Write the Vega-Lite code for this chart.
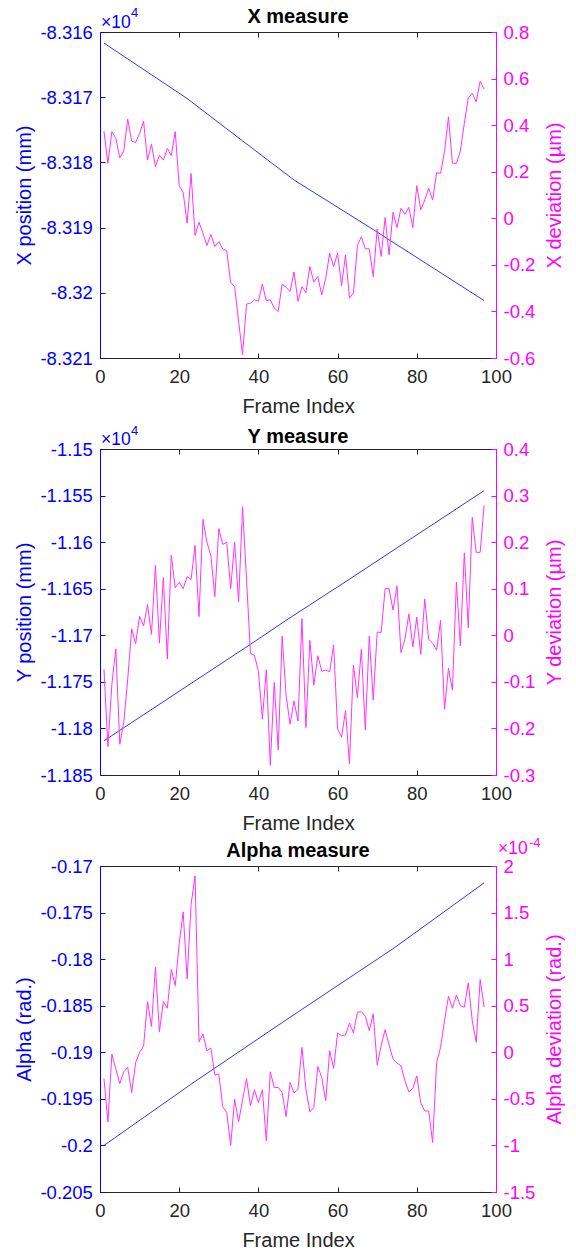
{
  "$schema": "https://vega.github.io/schema/vega-lite/v6.json",
  "padding": {"left": 14, "top": 6, "right": 0, "bottom": 0},
  "background": "white",
  "config": {
    "font": "Liberation Sans",
    "view": {"stroke": "#262626", "strokeWidth": 1},
    "axis": {"grid": false, "labelFlush": false, "labelOverlap": false, "tickSize": -5, "tickWidth": 1, "domainWidth": 1, "labelFont": "Liberation Sans", "titleFont": "Liberation Sans", "labelFontSize": 18.5, "titleFontSize": 20, "titleFontWeight": "normal"},
    "axisLeft": {"labelPadding": 12.6, "titlePadding": 5, "domainColor": "#0000ff", "tickColor": "#0000ff", "labelColor": "#0000ff", "titleColor": "#0000ff"},
    "axisRight": {"labelPadding": 12, "titlePadding": 10, "titleAngle": 270, "titleBaseline": "top", "domainColor": "#ff00ff", "tickColor": "#ff00ff", "labelColor": "#ff00ff", "titleColor": "#ff00ff"},
    "axisBottom": {"labelPadding": 14, "titlePadding": 11, "domainColor": "#262626", "tickColor": "#262626", "labelColor": "#262626", "titleColor": "#262626"},
    "axisTop": {"labels": false, "domainColor": "#262626", "tickColor": "#262626"},
    "title": {"font": "Liberation Sans", "fontSize": 20, "fontWeight": "bold", "color": "#000000"}
  },
  "datasets": {
    "x_pos": [
      {"frame": 1, "x_position": -8.31617}, {"frame": 22, "x_position": -8.31702}, {"frame": 36, "x_position": -8.31767},
      {"frame": 49, "x_position": -8.31827}, {"frame": 69, "x_position": -8.31903}, {"frame": 97, "x_position": -8.32012}
    ],
    "y_pos": [
      {"frame": 1, "y_position": -1.18133}, {"frame": 38, "y_position": -1.17097}, {"frame": 48, "y_position": -1.16811},
      {"frame": 60, "y_position": -1.16481}, {"frame": 97, "y_position": -1.15447}
    ],
    "alpha_pos": [
      {"frame": 1, "alpha": -0.2}, {"frame": 24, "alpha": -0.19313}, {"frame": 48, "alpha": -0.18624},
      {"frame": 74, "alpha": -0.17888}, {"frame": 97, "alpha": -0.17181}
    ],
    "dev": [
      {"frame": 1, "x_dev": 0.374, "y_dev": -0.073, "alpha_dev": -0.281},
      {"frame": 2, "x_dev": 0.236, "y_dev": -0.239, "alpha_dev": -0.748},
      {"frame": 3, "x_dev": 0.372, "y_dev": -0.105, "alpha_dev": -0.019},
      {"frame": 4, "x_dev": 0.343, "y_dev": -0.029, "alpha_dev": -0.181},
      {"frame": 5, "x_dev": 0.26, "y_dev": -0.234, "alpha_dev": -0.335},
      {"frame": 6, "x_dev": 0.289, "y_dev": -0.187, "alpha_dev": -0.21},
      {"frame": 7, "x_dev": 0.426, "y_dev": -0.094, "alpha_dev": -0.163},
      {"frame": 8, "x_dev": 0.331, "y_dev": 0.014, "alpha_dev": -0.432},
      {"frame": 9, "x_dev": 0.326, "y_dev": -0.018, "alpha_dev": -0.109},
      {"frame": 10, "x_dev": 0.364, "y_dev": 0.041, "alpha_dev": -0.001},
      {"frame": 11, "x_dev": 0.417, "y_dev": 0.02, "alpha_dev": 0.064},
      {"frame": 12, "x_dev": 0.25, "y_dev": 0.066, "alpha_dev": 0.544},
      {"frame": 13, "x_dev": 0.318, "y_dev": 0.002, "alpha_dev": 0.279},
      {"frame": 14, "x_dev": 0.221, "y_dev": 0.15, "alpha_dev": 0.915},
      {"frame": 15, "x_dev": 0.271, "y_dev": -0.017, "alpha_dev": 0.221},
      {"frame": 16, "x_dev": 0.25, "y_dev": 0.124, "alpha_dev": 0.544},
      {"frame": 17, "x_dev": 0.3, "y_dev": -0.051, "alpha_dev": 0.473},
      {"frame": 18, "x_dev": 0.269, "y_dev": 0.172, "alpha_dev": 0.889},
      {"frame": 19, "x_dev": 0.372, "y_dev": 0.102, "alpha_dev": 0.716},
      {"frame": 20, "x_dev": 0.14, "y_dev": 0.114, "alpha_dev": 1.165},
      {"frame": 21, "x_dev": 0.111, "y_dev": 0.1, "alpha_dev": 1.507},
      {"frame": 22, "x_dev": -0.021, "y_dev": 0.126, "alpha_dev": 0.788},
      {"frame": 23, "x_dev": 0.192, "y_dev": 0.12, "alpha_dev": 1.585},
      {"frame": 24, "x_dev": -0.074, "y_dev": 0.193, "alpha_dev": 1.894},
      {"frame": 25, "x_dev": -0.017, "y_dev": 0.04, "alpha_dev": 0.113},
      {"frame": 26, "x_dev": -0.064, "y_dev": 0.249, "alpha_dev": 0.196},
      {"frame": 27, "x_dev": -0.117, "y_dev": 0.2, "alpha_dev": 0.016},
      {"frame": 28, "x_dev": -0.069, "y_dev": 0.171, "alpha_dev": 0.045},
      {"frame": 29, "x_dev": -0.121, "y_dev": 0.083, "alpha_dev": -0.245},
      {"frame": 30, "x_dev": -0.1, "y_dev": 0.229, "alpha_dev": -0.234},
      {"frame": 31, "x_dev": -0.132, "y_dev": 0.195, "alpha_dev": -0.582},
      {"frame": 32, "x_dev": -0.139, "y_dev": 0.2, "alpha_dev": -0.647},
      {"frame": 33, "x_dev": -0.276, "y_dev": 0.1, "alpha_dev": -1.0},
      {"frame": 34, "x_dev": -0.293, "y_dev": 0.2, "alpha_dev": -0.504},
      {"frame": 35, "x_dev": -0.443, "y_dev": 0.072, "alpha_dev": -0.748},
      {"frame": 36, "x_dev": -0.586, "y_dev": 0.276, "alpha_dev": -0.511},
      {"frame": 37, "x_dev": -0.369, "y_dev": 0.12, "alpha_dev": -0.281},
      {"frame": 38, "x_dev": -0.364, "y_dev": -0.039, "alpha_dev": -0.576},
      {"frame": 39, "x_dev": -0.35, "y_dev": -0.043, "alpha_dev": -0.403},
      {"frame": 40, "x_dev": -0.357, "y_dev": -0.077, "alpha_dev": -0.54},
      {"frame": 41, "x_dev": -0.283, "y_dev": -0.18, "alpha_dev": -0.403},
      {"frame": 42, "x_dev": -0.354, "y_dev": -0.074, "alpha_dev": -0.95},
      {"frame": 43, "x_dev": -0.35, "y_dev": -0.279, "alpha_dev": -0.21},
      {"frame": 44, "x_dev": -0.386, "y_dev": -0.101, "alpha_dev": -0.378},
      {"frame": 45, "x_dev": -0.4, "y_dev": -0.246, "alpha_dev": -0.378},
      {"frame": 46, "x_dev": -0.283, "y_dev": -0.002, "alpha_dev": -0.432},
      {"frame": 47, "x_dev": -0.297, "y_dev": -0.13, "alpha_dev": -0.69},
      {"frame": 48, "x_dev": -0.314, "y_dev": -0.191, "alpha_dev": -0.324},
      {"frame": 49, "x_dev": -0.231, "y_dev": -0.141, "alpha_dev": -0.439},
      {"frame": 50, "x_dev": -0.357, "y_dev": -0.184, "alpha_dev": -0.396},
      {"frame": 51, "x_dev": -0.294, "y_dev": 0.036, "alpha_dev": 0.053},
      {"frame": 52, "x_dev": -0.319, "y_dev": -0.198, "alpha_dev": -0.396},
      {"frame": 53, "x_dev": -0.207, "y_dev": -0.011, "alpha_dev": -0.64},
      {"frame": 54, "x_dev": -0.274, "y_dev": -0.107, "alpha_dev": -0.593},
      {"frame": 55, "x_dev": -0.25, "y_dev": -0.044, "alpha_dev": -0.152},
      {"frame": 56, "x_dev": -0.329, "y_dev": -0.077, "alpha_dev": -0.27},
      {"frame": 57, "x_dev": -0.257, "y_dev": -0.075, "alpha_dev": -0.522},
      {"frame": 58, "x_dev": -0.15, "y_dev": -0.078, "alpha_dev": 0.017},
      {"frame": 59, "x_dev": -0.207, "y_dev": -0.021, "alpha_dev": -0.173},
      {"frame": 60, "x_dev": -0.15, "y_dev": -0.201, "alpha_dev": 0.207},
      {"frame": 61, "x_dev": -0.29, "y_dev": -0.219, "alpha_dev": 0.178},
      {"frame": 62, "x_dev": -0.157, "y_dev": -0.162, "alpha_dev": 0.185},
      {"frame": 63, "x_dev": -0.343, "y_dev": -0.276, "alpha_dev": 0.315},
      {"frame": 64, "x_dev": -0.321, "y_dev": -0.064, "alpha_dev": 0.207},
      {"frame": 65, "x_dev": -0.117, "y_dev": -0.134, "alpha_dev": 0.43},
      {"frame": 66, "x_dev": -0.079, "y_dev": -0.03, "alpha_dev": 0.437},
      {"frame": 67, "x_dev": -0.131, "y_dev": -0.203, "alpha_dev": 0.387},
      {"frame": 68, "x_dev": -0.131, "y_dev": -0.002, "alpha_dev": 0.232},
      {"frame": 69, "x_dev": -0.25, "y_dev": -0.139, "alpha_dev": 0.412},
      {"frame": 70, "x_dev": -0.046, "y_dev": 0.007, "alpha_dev": -0.138},
      {"frame": 71, "x_dev": -0.164, "y_dev": 0.006, "alpha_dev": 0.071},
      {"frame": 72, "x_dev": 0.003, "y_dev": 0.1, "alpha_dev": 0.243},
      {"frame": 73, "x_dev": -0.157, "y_dev": 0.1, "alpha_dev": 0.078},
      {"frame": 74, "x_dev": 0.026, "y_dev": 0.054, "alpha_dev": -0.073},
      {"frame": 75, "x_dev": -0.04, "y_dev": 0.106, "alpha_dev": -0.116},
      {"frame": 76, "x_dev": 0.043, "y_dev": -0.037, "alpha_dev": -0.145},
      {"frame": 77, "x_dev": 0.017, "y_dev": -0.009, "alpha_dev": -0.306},
      {"frame": 78, "x_dev": 0.047, "y_dev": 0.046, "alpha_dev": -0.425},
      {"frame": 79, "x_dev": -0.04, "y_dev": -0.025, "alpha_dev": -0.389},
      {"frame": 80, "x_dev": 0.14, "y_dev": 0.039, "alpha_dev": -0.253},
      {"frame": 81, "x_dev": 0.036, "y_dev": -0.041, "alpha_dev": -0.547},
      {"frame": 82, "x_dev": 0.078, "y_dev": 0.078, "alpha_dev": -0.63},
      {"frame": 83, "x_dev": 0.129, "y_dev": -0.009, "alpha_dev": -0.63},
      {"frame": 84, "x_dev": 0.078, "y_dev": -0.017, "alpha_dev": -0.97},
      {"frame": 85, "x_dev": 0.196, "y_dev": -0.032, "alpha_dev": -0.116},
      {"frame": 86, "x_dev": 0.193, "y_dev": 0.032, "alpha_dev": 0.053},
      {"frame": 87, "x_dev": 0.286, "y_dev": -0.159, "alpha_dev": 0.34},
      {"frame": 88, "x_dev": 0.436, "y_dev": -0.071, "alpha_dev": 0.602},
      {"frame": 89, "x_dev": 0.236, "y_dev": -0.118, "alpha_dev": 0.473},
      {"frame": 90, "x_dev": 0.236, "y_dev": 0.114, "alpha_dev": 0.616},
      {"frame": 91, "x_dev": 0.289, "y_dev": -0.023, "alpha_dev": 0.501},
      {"frame": 92, "x_dev": 0.407, "y_dev": 0.177, "alpha_dev": 0.484},
      {"frame": 93, "x_dev": 0.517, "y_dev": 0.016, "alpha_dev": 0.745},
      {"frame": 94, "x_dev": 0.536, "y_dev": 0.253, "alpha_dev": 0.34},
      {"frame": 95, "x_dev": 0.5, "y_dev": 0.178, "alpha_dev": 0.107},
      {"frame": 96, "x_dev": 0.589, "y_dev": 0.178, "alpha_dev": 0.781},
      {"frame": 97, "x_dev": 0.554, "y_dev": 0.279, "alpha_dev": 0.484}
    ]
  },
  "bounds": "flush",
  "spacing": 91,
  "vconcat": [
    {
      "width": 396, "height": 326,
      "title": {"text": "X measure", "offset": -19.5},
      "layer": [
        {"layer": [
          {"data": {"name": "x_pos"}, "mark": {"type": "line", "color": "#3333ff", "strokeWidth": 1},
           "encoding": {
             "x": {"field": "frame", "type": "quantitative", "scale": {"domain": [0, 100], "nice": false, "zero": false}, "axis": {"orient": "bottom", "title": "Frame Index", "values": [0, 20, 40, 60, 80, 100]}},
             "y": {"field": "x_position", "type": "quantitative", "scale": {"domain": [-8.321, -8.316], "nice": false, "zero": false}, "axis": {"orient": "left", "title": "X position (mm)", "values": [-8.321, -8.32, -8.319, -8.318, -8.317, -8.316], "labelExpr": "replace(format(datum.value, '~g'), '\u2212', '-')"}}
           }},
          {"data": {"values": [{"note": "×10"}]}, "mark": {"type": "text", "align": "left", "baseline": "alphabetic", "dx": 1, "dy": -4.5, "fontSize": 17.5, "color": "#0000ff", "font": "Liberation Sans"},
           "encoding": {"x": {"datum": 0, "type": "quantitative"}, "y": {"datum": -8.316, "type": "quantitative"}, "text": {"field": "note"}}},
          {"data": {"values": [{"note": "4"}]}, "mark": {"type": "text", "align": "left", "baseline": "alphabetic", "dx": 31, "dy": -15, "fontSize": 13, "color": "#0000ff", "font": "Liberation Sans"},
           "encoding": {"x": {"datum": 0, "type": "quantitative"}, "y": {"datum": -8.316, "type": "quantitative"}, "text": {"field": "note"}}}
        ]},
        {"data": {"name": "dev"}, "mark": {"type": "line", "color": "#ff33ff", "strokeWidth": 1},
         "encoding": {
           "x": {"field": "frame", "type": "quantitative", "axis": {"orient": "top", "labels": false, "title": null, "values": [0, 20, 40, 60, 80, 100]}},
           "y": {"field": "x_dev", "type": "quantitative", "scale": {"domain": [-0.6, 0.8], "nice": false, "zero": false}, "axis": {"orient": "right", "title": "X deviation (µm)", "values": [-0.6, -0.4, -0.2, 0, 0.2, 0.4, 0.6, 0.8], "labelExpr": "replace(format(datum.value, '~g'), '\u2212', '-')"}}
         }}
      ],
      "resolve": {"scale": {"y": "independent"}, "axis": {"x": "independent", "y": "independent"}}
    },
    {
      "width": 396, "height": 326,
      "title": {"text": "Y measure", "offset": -22},
      "layer": [
        {"layer": [
          {"data": {"name": "y_pos"}, "mark": {"type": "line", "color": "#3333ff", "strokeWidth": 1},
           "encoding": {
             "x": {"field": "frame", "type": "quantitative", "scale": {"domain": [0, 100], "nice": false, "zero": false}, "axis": {"orient": "bottom", "title": "Frame Index", "values": [0, 20, 40, 60, 80, 100]}},
             "y": {"field": "y_position", "type": "quantitative", "scale": {"domain": [-1.185, -1.15], "nice": false, "zero": false}, "axis": {"orient": "left", "title": "Y position (mm)", "values": [-1.185, -1.18, -1.175, -1.17, -1.165, -1.16, -1.155, -1.15], "labelExpr": "replace(format(datum.value, '~g'), '\u2212', '-')"}}
           }},
          {"data": {"values": [{"note": "×10"}]}, "mark": {"type": "text", "align": "left", "baseline": "alphabetic", "dx": 1, "dy": -4, "fontSize": 17.5, "color": "#0000ff", "font": "Liberation Sans"},
           "encoding": {"x": {"datum": 0, "type": "quantitative"}, "y": {"datum": -1.15, "type": "quantitative"}, "text": {"field": "note"}}},
          {"data": {"values": [{"note": "4"}]}, "mark": {"type": "text", "align": "left", "baseline": "alphabetic", "dx": 31, "dy": -14.5, "fontSize": 13, "color": "#0000ff", "font": "Liberation Sans"},
           "encoding": {"x": {"datum": 0, "type": "quantitative"}, "y": {"datum": -1.15, "type": "quantitative"}, "text": {"field": "note"}}}
        ]},
        {"data": {"name": "dev"}, "mark": {"type": "line", "color": "#ff33ff", "strokeWidth": 1},
         "encoding": {
           "x": {"field": "frame", "type": "quantitative", "axis": {"orient": "top", "labels": false, "title": null, "values": [0, 20, 40, 60, 80, 100]}},
           "y": {"field": "y_dev", "type": "quantitative", "scale": {"domain": [-0.3, 0.4], "nice": false, "zero": false}, "axis": {"orient": "right", "title": "Y deviation (µm)", "values": [-0.3, -0.2, -0.1, 0, 0.1, 0.2, 0.3, 0.4], "labelExpr": "replace(format(datum.value, '~g'), '\u2212', '-')"}}
         }}
      ],
      "resolve": {"scale": {"y": "independent"}, "axis": {"x": "independent", "y": "independent"}}
    },
    {
      "width": 396, "height": 326,
      "title": {"text": "Alpha measure", "offset": -24},
      "layer": [
        {"data": {"name": "alpha_pos"}, "mark": {"type": "line", "color": "#3333ff", "strokeWidth": 1},
         "encoding": {
           "x": {"field": "frame", "type": "quantitative", "scale": {"domain": [0, 100], "nice": false, "zero": false}, "axis": {"orient": "bottom", "title": "Frame Index", "values": [0, 20, 40, 60, 80, 100]}},
           "y": {"field": "alpha", "type": "quantitative", "scale": {"domain": [-0.205, -0.17], "nice": false, "zero": false}, "axis": {"orient": "left", "title": "Alpha (rad.)", "values": [-0.205, -0.2, -0.195, -0.19, -0.185, -0.18, -0.175, -0.17], "labelExpr": "replace(format(datum.value, '~g'), '\u2212', '-')"}}
         }},
        {"layer": [
          {"data": {"name": "dev"}, "mark": {"type": "line", "color": "#ff33ff", "strokeWidth": 1},
           "encoding": {
             "x": {"field": "frame", "type": "quantitative", "axis": {"orient": "top", "labels": false, "title": null, "values": [0, 20, 40, 60, 80, 100]}},
             "y": {"field": "alpha_dev", "type": "quantitative", "scale": {"domain": [-1.5, 2], "nice": false, "zero": false}, "axis": {"orient": "right", "title": "Alpha deviation (rad.)", "values": [-1.5, -1, -0.5, 0, 0.5, 1, 1.5, 2], "labelExpr": "replace(format(datum.value, '~g'), '\u2212', '-')"}}
           }},
          {"data": {"values": [{"note": "×10"}]}, "mark": {"type": "text", "align": "left", "baseline": "alphabetic", "dx": 2, "dy": -12, "fontSize": 17.5, "color": "#ff00ff", "font": "Liberation Sans"},
           "encoding": {"x": {"datum": 100, "type": "quantitative"}, "y": {"datum": 2, "type": "quantitative"}, "text": {"field": "note"}}},
          {"data": {"values": [{"note": "-4"}]}, "mark": {"type": "text", "align": "left", "baseline": "alphabetic", "dx": 33, "dy": -19, "fontSize": 13, "color": "#ff00ff", "font": "Liberation Sans"},
           "encoding": {"x": {"datum": 100, "type": "quantitative"}, "y": {"datum": 2, "type": "quantitative"}, "text": {"field": "note"}}}
        ]}
      ],
      "resolve": {"scale": {"y": "independent"}, "axis": {"x": "independent", "y": "independent"}}
    }
  ]
}
